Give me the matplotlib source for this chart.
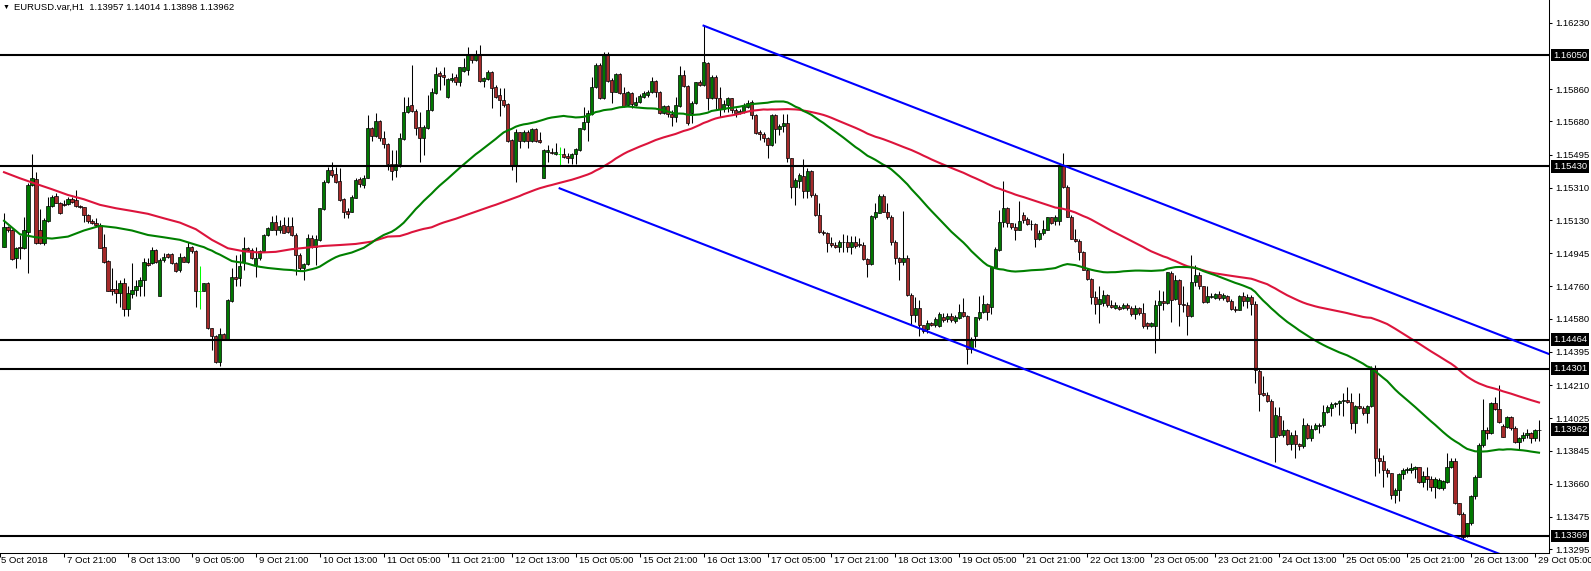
import matplotlib
matplotlib.use('Agg')
import matplotlib.pyplot as plt
import matplotlib.transforms as mtransforms
import numpy as np
import pandas as pd

plt.rcParams['font.family'] = ['Liberation Sans', 'DejaVu Sans']

# ---- EURUSD H1 bars, 5 Oct 06:00 .. 29 Oct 06:00 ----
opens = [
    1.14982, 1.15090, 1.15072, 1.14917, 1.14982, 1.14977, 1.15066, 1.15326, 1.15360, 1.15072,
    1.15005, 1.15127, 1.15209, 1.15265, 1.15224, 1.15220, 1.15218, 1.15246, 1.15243, 1.15209,
    1.15202, 1.15159, 1.15127, 1.15112, 1.15103, 1.14979, 1.14902, 1.14745, 1.14745, 1.14726,
    1.14778, 1.14633, 1.14719, 1.14741, 1.14760, 1.14797, 1.14893, 1.14890, 1.14964, 1.14709,
    1.14908, 1.14942, 1.14940, 1.14890, 1.14849, 1.14923, 1.14899, 1.14979, 1.14958, 1.14737,
    1.14737, 1.14778, 1.14527, 1.14486, 1.14341, 1.14494, 1.14466, 1.14681, 1.14815, 1.14806,
    1.14899, 1.14973, 1.14964, 1.14880, 1.14917, 1.14955, 1.15047, 1.15075, 1.15122, 1.15072,
    1.15103, 1.15098, 1.15098, 1.15047, 1.14936, 1.14862, 1.14886, 1.15029, 1.14979, 1.15019,
    1.15192, 1.15341, 1.15410, 1.15385, 1.15348, 1.15248, 1.15181, 1.15177, 1.15255, 1.15359,
    1.15326, 1.15367, 1.15642, 1.15601, 1.15683, 1.15586, 1.15553, 1.15441, 1.15410, 1.15441,
    1.15582, 1.15731, 1.15772, 1.15740, 1.15651, 1.15586, 1.15642, 1.15744, 1.15837, 1.15948,
    1.15939, 1.15818, 1.15911, 1.15930, 1.15902, 1.15961, 1.15967, 1.16054, 1.16023, 1.16054,
    1.15906, 1.15915, 1.15958, 1.15874, 1.15828, 1.15800, 1.15777, 1.15577, 1.15437, 1.15619,
    1.15571, 1.15623, 1.15571, 1.15638, 1.15577, 1.15367, 1.15508, 1.15512, 1.15499, 1.15499,
    1.15501, 1.15489, 1.15474, 1.15497, 1.15521, 1.15638, 1.15675, 1.15722, 1.15870, 1.15995,
    1.15809, 1.16051, 1.15911, 1.15846, 1.15942, 1.15836, 1.15771, 1.15836, 1.15771, 1.15786,
    1.15818, 1.15827, 1.15842, 1.15905, 1.15842, 1.15729, 1.15766, 1.15719, 1.15706, 1.15768,
    1.15939, 1.15877, 1.15729, 1.15781, 1.15901, 1.15883, 1.16004, 1.15809, 1.15929, 1.15809,
    1.15747, 1.15771, 1.15809, 1.15744, 1.15729, 1.15734, 1.15762, 1.15786, 1.15716, 1.15619,
    1.15612, 1.15585, 1.15548, 1.15716, 1.15636, 1.15654, 1.15673, 1.15474, 1.15316, 1.15350,
    1.15376, 1.15294, 1.15405, 1.15270, 1.15158, 1.15062, 1.15056, 1.15000, 1.14991, 1.14978,
    1.15006, 1.15010, 1.14978, 1.15006, 1.14995, 1.14991, 1.14911, 1.14887, 1.15149, 1.15171,
    1.15266, 1.15177, 1.15149, 1.15010, 1.14917, 1.14894, 1.14920, 1.14712, 1.14601, 1.14642,
    1.14545, 1.14522, 1.14559, 1.14546, 1.14537, 1.14589, 1.14579, 1.14596, 1.14570, 1.14583,
    1.14620, 1.14596, 1.14410, 1.14481, 1.14583, 1.14620, 1.14661, 1.14644, 1.14867, 1.14964,
    1.15122, 1.15196, 1.15112, 1.15090, 1.15075, 1.15159, 1.15135, 1.15109, 1.15107, 1.15025,
    1.15057, 1.15075, 1.15146, 1.15125, 1.15127, 1.15432, 1.15317, 1.15150, 1.15027, 1.15016,
    1.14951, 1.14852, 1.14800, 1.14700, 1.14661, 1.14667, 1.14713, 1.14654, 1.14642, 1.14648,
    1.14642, 1.14657, 1.14642, 1.14605, 1.14639, 1.14611, 1.14555, 1.14542, 1.14540, 1.14657,
    1.14680, 1.14667, 1.14837, 1.14689, 1.14797, 1.14663, 1.14657, 1.14596, 1.14787, 1.14824,
    1.14760, 1.14676, 1.14700, 1.14698, 1.14717, 1.14694, 1.14704, 1.14681, 1.14633, 1.14629,
    1.14704, 1.14680, 1.14700, 1.14660, 1.14291, 1.14168, 1.14155, 1.14124, 1.13923, 1.14040,
    1.13932, 1.13960, 1.13882, 1.13932, 1.13882, 1.13871, 1.13988, 1.13914, 1.13964, 1.13983,
    1.13986, 1.14062, 1.14085, 1.14103, 1.14113, 1.14122, 1.14128, 1.14115, 1.14001, 1.14094,
    1.14081, 1.14053, 1.14094, 1.14298, 1.13802, 1.13789, 1.13734, 1.13719, 1.13598, 1.13626,
    1.13715, 1.13734, 1.13737, 1.13741, 1.13752, 1.13672, 1.13704, 1.13685, 1.13644, 1.13635,
    1.13635, 1.13672, 1.13756, 1.13789, 1.13552, 1.13492, 1.13366, 1.13440, 1.13589, 1.13700,
    1.13877, 1.13957, 1.13942, 1.14109, 1.14075, 1.13983, 1.13975, 1.14031, 1.13970, 1.13895,
    1.13914, 1.13932, 1.13942, 1.13914, 1.13957,
]
highs = [
    1.15172, 1.15098, 1.15079, 1.14982, 1.15047, 1.15146, 1.15335, 1.15499, 1.15397, 1.15190,
    1.15140, 1.15261, 1.15270, 1.15280, 1.15233, 1.15243, 1.15257, 1.15257, 1.15298, 1.15215,
    1.15205, 1.15164, 1.15135, 1.15140, 1.15112, 1.15053, 1.14908, 1.14862, 1.14797, 1.14797,
    1.14806, 1.14760, 1.14890, 1.14797, 1.14815, 1.14917, 1.14917, 1.14979, 1.14968, 1.14917,
    1.14945, 1.14949, 1.14945, 1.14899, 1.14945, 1.14930, 1.15010, 1.14986, 1.14964, 1.14875,
    1.14782, 1.14787, 1.14531, 1.14490, 1.14527, 1.14499, 1.14689, 1.14862, 1.14936, 1.14942,
    1.15034, 1.14982, 1.14973, 1.14982, 1.14964, 1.15053, 1.15090, 1.15153, 1.15159, 1.15131,
    1.15150, 1.15150, 1.15146, 1.15057, 1.14945, 1.14890, 1.15053, 1.15047, 1.15047, 1.15200,
    1.15354, 1.15428, 1.15456, 1.15428, 1.15419, 1.15252, 1.15196, 1.15270, 1.15363, 1.15372,
    1.15382, 1.15716, 1.15651, 1.15725, 1.15688, 1.15627, 1.15558, 1.15521, 1.15521, 1.15614,
    1.15818, 1.15818, 1.15995, 1.15750, 1.15735, 1.15660, 1.15828, 1.15865, 1.15985, 1.15961,
    1.15985, 1.15924, 1.15948, 1.15943, 1.15985, 1.16032, 1.16093, 1.16058, 1.16078, 1.16106,
    1.15930, 1.15967, 1.15961, 1.15883, 1.15865, 1.15865, 1.15781, 1.15580, 1.15636, 1.15623,
    1.15632, 1.15632, 1.15642, 1.15642, 1.15623, 1.15525, 1.15549, 1.15530, 1.15558, 1.15536,
    1.15530, 1.15502, 1.15502, 1.15530, 1.15645, 1.15762, 1.15744, 1.15930, 1.16004, 1.16004,
    1.16069, 1.16065, 1.15920, 1.15948, 1.15948, 1.15873, 1.15849, 1.15842, 1.15818, 1.15831,
    1.15849, 1.15855, 1.15929, 1.15911, 1.15849, 1.15771, 1.15771, 1.15744, 1.15818, 1.15991,
    1.15966, 1.15883, 1.15794, 1.15901, 1.15911, 1.16217, 1.16009, 1.15939, 1.15939, 1.15874,
    1.15799, 1.15818, 1.15812, 1.15753, 1.15749, 1.15781, 1.15799, 1.15799, 1.15719, 1.15632,
    1.15623, 1.15595, 1.15719, 1.15719, 1.15664, 1.15719, 1.15719, 1.15478, 1.15363, 1.15390,
    1.15470, 1.15418, 1.15409, 1.15279, 1.15223, 1.15075, 1.15062, 1.15037, 1.15010, 1.15017,
    1.15050, 1.15047, 1.15043, 1.15043, 1.15028, 1.15006, 1.14917, 1.15158, 1.15223, 1.15275,
    1.15273, 1.15223, 1.15158, 1.15019, 1.14926, 1.15180, 1.14935, 1.14722, 1.14703, 1.14684,
    1.14545, 1.14574, 1.14564, 1.14592, 1.14615, 1.14611, 1.14611, 1.14611, 1.14602, 1.14661,
    1.14694, 1.14602, 1.14477, 1.14592, 1.14704, 1.14713, 1.14667, 1.14875, 1.14979, 1.15187,
    1.15350, 1.15205, 1.15116, 1.15112, 1.15239, 1.15177, 1.15146, 1.15131, 1.15112, 1.15075,
    1.15131, 1.15150, 1.15150, 1.15159, 1.15438, 1.15506, 1.15326, 1.15159, 1.15079, 1.15023,
    1.14955, 1.14862, 1.14806, 1.14732, 1.14760, 1.14741, 1.14719, 1.14685, 1.14676, 1.14657,
    1.14667, 1.14667, 1.14652, 1.14657, 1.14648, 1.14667, 1.14564, 1.14564, 1.14685, 1.14741,
    1.14732, 1.14843, 1.14847, 1.14824, 1.14800, 1.14760, 1.14676, 1.14936, 1.14880, 1.14843,
    1.14763, 1.14760, 1.14722, 1.14726, 1.14732, 1.14722, 1.14713, 1.14689, 1.14652, 1.14713,
    1.14730, 1.14720, 1.14710, 1.14680, 1.14298, 1.14258, 1.14174, 1.14131, 1.14090, 1.14090,
    1.14016, 1.13964, 1.13951, 1.13960, 1.13890, 1.14025, 1.13997, 1.13988, 1.13997, 1.13997,
    1.14100, 1.14100, 1.14118, 1.14118, 1.14128, 1.14165, 1.14202, 1.14165, 1.14100, 1.14165,
    1.14094, 1.14100, 1.14317, 1.14323, 1.13858, 1.13821, 1.13747, 1.13722, 1.13635, 1.13722,
    1.13747, 1.13756, 1.13775, 1.13760, 1.13756, 1.13732, 1.13756, 1.13704, 1.13700, 1.13691,
    1.13682, 1.13834, 1.13802, 1.13802, 1.13555, 1.13500, 1.13444, 1.13598, 1.13710, 1.13886,
    1.14131, 1.13975, 1.14118, 1.14146, 1.14211, 1.13994, 1.14038, 1.14038, 1.13983, 1.13923,
    1.13951, 1.13964, 1.13951, 1.13964, 1.14014,
]
lows = [
    1.14979, 1.15066, 1.14908, 1.14865, 1.14912, 1.14971, 1.14837, 1.15322, 1.14997, 1.14997,
    1.14992, 1.15122, 1.15205, 1.15224, 1.15164, 1.15209, 1.15215, 1.15228, 1.15205, 1.15196,
    1.15122, 1.15116, 1.15109, 1.15098, 1.14973, 1.14893, 1.14732, 1.14713, 1.14667, 1.14648,
    1.14596, 1.14596, 1.14694, 1.14704, 1.14704, 1.14707, 1.14875, 1.14886, 1.14893, 1.14707,
    1.14899, 1.14917, 1.14886, 1.14843, 1.14843, 1.14895, 1.14893, 1.14949, 1.14648, 1.14635,
    1.14732, 1.14522, 1.14403, 1.14336, 1.14317, 1.14462, 1.14462, 1.14676, 1.14760, 1.14760,
    1.14852, 1.14955, 1.14912, 1.14815, 1.14908, 1.14951, 1.15042, 1.15072, 1.15047, 1.15060,
    1.15057, 1.15057, 1.15042, 1.14824, 1.14852, 1.14797, 1.14880, 1.14973, 1.14880, 1.15016,
    1.15187, 1.15335, 1.15372, 1.15335, 1.15237, 1.15140, 1.15140, 1.15174, 1.15252, 1.15317,
    1.15307, 1.15363, 1.15571, 1.15595, 1.15571, 1.15530, 1.15410, 1.15354, 1.15372, 1.15428,
    1.15577, 1.15725, 1.15731, 1.15605, 1.15452, 1.15493, 1.15638, 1.15738, 1.15831, 1.15855,
    1.15883, 1.15809, 1.15902, 1.15883, 1.15880, 1.15954, 1.15939, 1.16004, 1.16017, 1.15898,
    1.15874, 1.15911, 1.15753, 1.15809, 1.15712, 1.15762, 1.15567, 1.15410, 1.15341, 1.15530,
    1.15564, 1.15530, 1.15567, 1.15564, 1.15558, 1.15363, 1.15456, 1.15497, 1.15493, 1.15437,
    1.15478, 1.15447, 1.15441, 1.15441, 1.15515, 1.15632, 1.15571, 1.15716, 1.15865, 1.15805,
    1.15805, 1.15902, 1.15781, 1.15842, 1.15833, 1.15762, 1.15768, 1.15753, 1.15768, 1.15781,
    1.15812, 1.15818, 1.15836, 1.15818, 1.15723, 1.15719, 1.15706, 1.15656, 1.15675, 1.15762,
    1.15874, 1.15660, 1.15669, 1.15775, 1.15879, 1.15879, 1.15744, 1.15805, 1.15749, 1.15706,
    1.15734, 1.15730, 1.15725, 1.15706, 1.15719, 1.15725, 1.15756, 1.15693, 1.15608, 1.15576,
    1.15567, 1.15478, 1.15545, 1.15558, 1.15604, 1.15623, 1.15456, 1.15255, 1.15214, 1.15307,
    1.15251, 1.15251, 1.15260, 1.15154, 1.15056, 1.15047, 1.14954, 1.14982, 1.14972, 1.14954,
    1.14950, 1.14950, 1.14939, 1.14972, 1.14982, 1.14907, 1.14815, 1.14880, 1.15136, 1.15168,
    1.15173, 1.15136, 1.14991, 1.14883, 1.14796, 1.14880, 1.14709, 1.14545, 1.14564, 1.14486,
    1.14499, 1.14503, 1.14540, 1.14533, 1.14533, 1.14564, 1.14564, 1.14564, 1.14559, 1.14577,
    1.14592, 1.14328, 1.14388, 1.14425, 1.14574, 1.14611, 1.14574, 1.14607, 1.14862, 1.14960,
    1.15090, 1.15090, 1.15079, 1.15020, 1.15072, 1.15112, 1.15103, 1.15075, 1.14979, 1.15020,
    1.15047, 1.15072, 1.15109, 1.15103, 1.15103, 1.15308, 1.15146, 1.15023, 1.15010, 1.14908,
    1.14849, 1.14797, 1.14663, 1.14607, 1.14555, 1.14652, 1.14648, 1.14639, 1.14633, 1.14629,
    1.14633, 1.14629, 1.14596, 1.14577, 1.14602, 1.14527, 1.14522, 1.14533, 1.14388, 1.14462,
    1.14626, 1.14663, 1.14564, 1.14685, 1.14537, 1.14620, 1.14490, 1.14589, 1.14760, 1.14745,
    1.14670, 1.14670, 1.14694, 1.14689, 1.14685, 1.14685, 1.14676, 1.14626, 1.14620, 1.14626,
    1.14650, 1.14640, 1.14600, 1.14224, 1.14068, 1.14150, 1.14118, 1.13919, 1.13784, 1.13927,
    1.13923, 1.13877, 1.13849, 1.13802, 1.13849, 1.13858, 1.13908, 1.13901, 1.13957, 1.13942,
    1.13979, 1.14053, 1.14038, 1.14090, 1.14044, 1.14038, 1.14109, 1.13964, 1.13942, 1.14075,
    1.14044, 1.14001, 1.14087, 1.13704, 1.13719, 1.13644, 1.13700, 1.13574, 1.13555, 1.13566,
    1.13685, 1.13719, 1.13722, 1.13691, 1.13667, 1.13644, 1.13626, 1.13617, 1.13579, 1.13630,
    1.13626, 1.13667, 1.13747, 1.13548, 1.13487, 1.13351, 1.13361, 1.13431, 1.13574, 1.13696,
    1.13867, 1.13908, 1.13938, 1.14072, 1.14001, 1.13919, 1.13970, 1.13960, 1.13890, 1.13853,
    1.13901, 1.13914, 1.13886, 1.13901, 1.13898,
]
closes = [
    1.15090, 1.15072, 1.14914, 1.14973, 1.14973, 1.15072, 1.15326, 1.15363, 1.15001, 1.15005,
    1.15131, 1.15209, 1.15261, 1.15228, 1.15168, 1.15215, 1.15246, 1.15233, 1.15209, 1.15203,
    1.15159, 1.15125, 1.15116, 1.15103, 1.14977, 1.14899, 1.14737, 1.14737, 1.14726, 1.14778,
    1.14633, 1.14722, 1.14741, 1.14763, 1.14797, 1.14895, 1.14880, 1.14964, 1.14899, 1.14908,
    1.14927, 1.14923, 1.14890, 1.14847, 1.14927, 1.14899, 1.14979, 1.14956, 1.14737, 1.14737,
    1.14778, 1.14527, 1.14486, 1.14341, 1.14494, 1.14466, 1.14685, 1.14815, 1.14800, 1.14875,
    1.14973, 1.14964, 1.14917, 1.14917, 1.14955, 1.15047, 1.15085, 1.15122, 1.15072, 1.15098,
    1.15060, 1.15066, 1.15047, 1.14936, 1.14862, 1.14886, 1.15029, 1.14982, 1.15025, 1.15196,
    1.15345, 1.15410, 1.15382, 1.15345, 1.15242, 1.15174, 1.15162, 1.15261, 1.15354, 1.15330,
    1.15367, 1.15642, 1.15601, 1.15683, 1.15586, 1.15553, 1.15441, 1.15404, 1.15441, 1.15586,
    1.15731, 1.15766, 1.15740, 1.15642, 1.15586, 1.15651, 1.15744, 1.15846, 1.15943, 1.15935,
    1.15930, 1.15917, 1.15924, 1.15902, 1.15982, 1.15985, 1.16054, 1.16023, 1.16051, 1.15907,
    1.15920, 1.15958, 1.15868, 1.15818, 1.15800, 1.15772, 1.15571, 1.15437, 1.15619, 1.15571,
    1.15623, 1.15571, 1.15638, 1.15571, 1.15567, 1.15521, 1.15521, 1.15502, 1.15512, 1.15499,
    1.15484, 1.15474, 1.15499, 1.15525, 1.15642, 1.15675, 1.15725, 1.15874, 1.15995, 1.15809,
    1.16051, 1.15907, 1.15846, 1.15943, 1.15836, 1.15768, 1.15842, 1.15775, 1.15790, 1.15821,
    1.15840, 1.15846, 1.15905, 1.15842, 1.15729, 1.15766, 1.15719, 1.15706, 1.15771, 1.15939,
    1.15877, 1.15673, 1.15784, 1.15898, 1.15883, 1.16009, 1.15809, 1.15929, 1.15809, 1.15747,
    1.15775, 1.15809, 1.15744, 1.15729, 1.15738, 1.15768, 1.15781, 1.15716, 1.15613, 1.15610,
    1.15585, 1.15548, 1.15716, 1.15636, 1.15654, 1.15673, 1.15474, 1.15312, 1.15353, 1.15381,
    1.15294, 1.15405, 1.15270, 1.15158, 1.15062, 1.15056, 1.15000, 1.14991, 1.14978, 1.15006,
    1.15010, 1.14978, 1.15006, 1.14987, 1.14991, 1.14911, 1.14887, 1.15153, 1.15173, 1.15266,
    1.15177, 1.15149, 1.15010, 1.14917, 1.14894, 1.14920, 1.14712, 1.14601, 1.14642, 1.14545,
    1.14512, 1.14559, 1.14546, 1.14577, 1.14607, 1.14574, 1.14596, 1.14574, 1.14589, 1.14620,
    1.14598, 1.14410, 1.14462, 1.14589, 1.14615, 1.14661, 1.14615, 1.14871, 1.14968, 1.15122,
    1.15196, 1.15112, 1.15090, 1.15072, 1.15125, 1.15131, 1.15109, 1.15107, 1.15025, 1.15060,
    1.15079, 1.15146, 1.15116, 1.15146, 1.15432, 1.15317, 1.15150, 1.15027, 1.15016, 1.14951,
    1.14852, 1.14800, 1.14700, 1.14661, 1.14689, 1.14713, 1.14654, 1.14644, 1.14654, 1.14635,
    1.14657, 1.14642, 1.14605, 1.14639, 1.14611, 1.14542, 1.14542, 1.14559, 1.14657, 1.14680,
    1.14667, 1.14839, 1.14685, 1.14797, 1.14663, 1.14657, 1.14596, 1.14787, 1.14824, 1.14760,
    1.14676, 1.14704, 1.14707, 1.14717, 1.14694, 1.14713, 1.14681, 1.14633, 1.14629, 1.14704,
    1.14680, 1.14700, 1.14660, 1.14295, 1.14159, 1.14155, 1.14124, 1.13923, 1.14044, 1.13932,
    1.13960, 1.13882, 1.13932, 1.13882, 1.13871, 1.13988, 1.13914, 1.13964, 1.13988, 1.13990,
    1.14062, 1.14087, 1.14105, 1.14113, 1.14124, 1.14128, 1.14115, 1.14001, 1.14094, 1.14081,
    1.14053, 1.14094, 1.14298, 1.13802, 1.13789, 1.13734, 1.13719, 1.13598, 1.13626, 1.13715,
    1.13737, 1.13741, 1.13747, 1.13752, 1.13672, 1.13704, 1.13685, 1.13644, 1.13685, 1.13682,
    1.13678, 1.13756, 1.13789, 1.13552, 1.13492, 1.13362, 1.13440, 1.13589, 1.13700, 1.13877,
    1.13957, 1.13942, 1.14109, 1.14075, 1.14007, 1.13923, 1.14031, 1.13970, 1.13895, 1.13914,
    1.13932, 1.13942, 1.13914, 1.13957, 1.13962,
]

# moving averages before enough bars are on screen
sma50_head_bars = [0, 4, 8, 12, 16, 20, 24, 28, 32, 36, 40, 44, 48]
sma50_head = [1.15126, 1.15051, 1.15034, 1.15027, 1.15038, 1.15072, 1.15098,
              1.15088, 1.15072, 1.15047, 1.15034, 1.15020, 1.14992]
sma100_head_bars = list(range(0, 97, 4))
sma100_head = [1.15397, 1.15363, 1.15332, 1.15302, 1.15270, 1.15246, 1.15215,
               1.15196, 1.15181, 1.15165, 1.15140, 1.15116, 1.15079, 1.15020,
               1.14973, 1.14956, 1.14949, 1.14953, 1.14968, 1.14977, 1.14986,
               1.14991, 1.14997, 1.15010, 1.15038]

# horizontal levels and the channel (bar index, price)
levels = [1.16050, 1.15430, 1.14464, 1.14301, 1.13369]
upper_channel = [(175, 1.16214), (265, 1.15435)]
lower_channel = [(139, 1.15307), (365, 1.13348)]

ytick_values = [1.16230, 1.15860, 1.15680, 1.15495, 1.15310, 1.15130, 1.14945,
                1.14760, 1.14580, 1.14395, 1.14210, 1.14025, 1.13845, 1.13660,
                1.13475, 1.13295]
time_labels = ['5 Oct 2018', '7 Oct 21:00', '8 Oct 13:00', '9 Oct 05:00',
               '9 Oct 21:00', '10 Oct 13:00', '11 Oct 05:00', '11 Oct 21:00',
               '12 Oct 13:00', '15 Oct 05:00', '15 Oct 21:00', '16 Oct 13:00',
               '17 Oct 05:00', '17 Oct 21:00', '18 Oct 13:00', '19 Oct 05:00',
               '21 Oct 21:00', '22 Oct 13:00', '23 Oct 05:00', '23 Oct 21:00',
               '24 Oct 13:00', '25 Oct 05:00', '25 Oct 21:00', '26 Oct 13:00',
               '29 Oct 05:00']

W, H = 1591, 571
fig = plt.figure(figsize=(W / 100, H / 100), dpi=100)
ax = fig.add_axes([0, 18 / H, 1549 / W, 553 / H])

o = np.array(opens); h = np.array(highs); l = np.array(lows); c = np.array(closes)
x = np.arange(len(c))
up = c > o + 1e-9
down = c < o - 1e-9
doji = ~(up | down)

FS = 6.8
RED = '#a52a2a'
GREEN = '#007800'

# ---- candles ----
ax.vlines(x[~doji], l[~doji], h[~doji], color='black', linewidth=0.75, zorder=3)
ax.vlines(x[doji], l[doji], h[doji], color='#00ff00', linewidth=0.75, zorder=3)
ax.hlines(o[doji], x[doji] - 0.4, x[doji] + 0.4, color='#00ff00', linewidth=0.75, zorder=3)
bottom = np.minimum(o, c)
height = np.maximum(np.abs(c - o), 0.00001)
ax.bar(x[up], height[up], bottom=bottom[up], width=0.8, color=GREEN,
       edgecolor='black', linewidth=0.5, zorder=4)
ax.bar(x[down], height[down], bottom=bottom[down], width=0.8, color=RED,
       edgecolor='black', linewidth=0.5, zorder=4)

# ---- moving averages (SMA 50 green, SMA 100 red) ----
cs = pd.Series(closes)
sma50 = cs.rolling(50).mean().to_numpy()
sma100 = cs.rolling(100).mean().to_numpy()
gx = np.concatenate([sma50_head_bars, x[49:]])
gy = np.concatenate([sma50_head, sma50[49:]])
rx = np.concatenate([sma100_head_bars, x[99:]])
ry = np.concatenate([sma100_head, sma100[99:]])
ax.plot(rx, ry, color='#dc143c', linewidth=1.5, zorder=5)
ax.plot(gx, gy, color='#008000', linewidth=1.5, zorder=5)

# ---- levels ----
for v in levels:
    ax.axhline(v, color='black', linewidth=1.5, zorder=6)

# ---- channel ----
x_right = 386.5
for (x1, y1), (x2, y2) in (upper_channel, lower_channel):
    slope = (y2 - y1) / (x2 - x1)
    ax.plot([x1, x_right], [y1, y1 + slope * (x_right - x1)], color='#0000ff',
            linewidth=1.5, zorder=6)

# ---- axes ----
ax.set_xlim(-0.75, x_right)
ax.set_ylim(1.13274, 1.16357)
for s in ('top', 'left'):
    ax.spines[s].set_visible(False)
for s in ('right', 'bottom'):
    ax.spines[s].set_linewidth(0.75)
ax.yaxis.tick_right()
ax.set_yticks(ytick_values)
ax.set_yticklabels([f'{v:.5f}' for v in ytick_values])
ax.tick_params(axis='y', direction='out', length=2.5, width=0.75, pad=2,
               labelsize=FS, colors='black')
tick_pos = [-1 + 16 * k for k in range(len(time_labels))]
ax.set_xticks(tick_pos)
ax.set_xticklabels([])
ax.tick_params(axis='x', direction='out', length=3, width=0.75)

px = lambda dx, dy: mtransforms.ScaledTranslation(dx / 100, dy / 100, fig.dpi_scale_trans)
xtrans = mtransforms.blended_transform_factory(ax.transData, ax.transAxes)
for k, (p, lab) in enumerate(zip(tick_pos, time_labels)):
    shift = 1 if k == 0 else 3
    ax.text(p, 0, lab, transform=xtrans + px(shift, -3), ha='left', va='top',
            fontsize=FS, clip_on=False)

ytrans = mtransforms.blended_transform_factory(ax.transAxes, ax.transData)
for v in levels + [closes[-1]]:
    ax.text(1.0, v, f'{v:.5f}', transform=ytrans + px(4, 0), ha='left', va='center',
            fontsize=FS, color='white', zorder=10, clip_on=False,
            bbox=dict(boxstyle='square,pad=0.2', fc='black', ec='none'))

# ---- header ----
fig.text(3 / W, 1 - 7 / H, '\u25bc', fontsize=5, va='center', ha='left')
fig.text(14 / W, 1 - 7 / H,
         f'EURUSD.var,H1  {opens[-1]:.5f} {highs[-1]:.5f} {lows[-1]:.5f} {closes[-1]:.5f}',
         fontsize=FS, va='center', ha='left')

fig.savefig('out.png', dpi=100, facecolor='white')
